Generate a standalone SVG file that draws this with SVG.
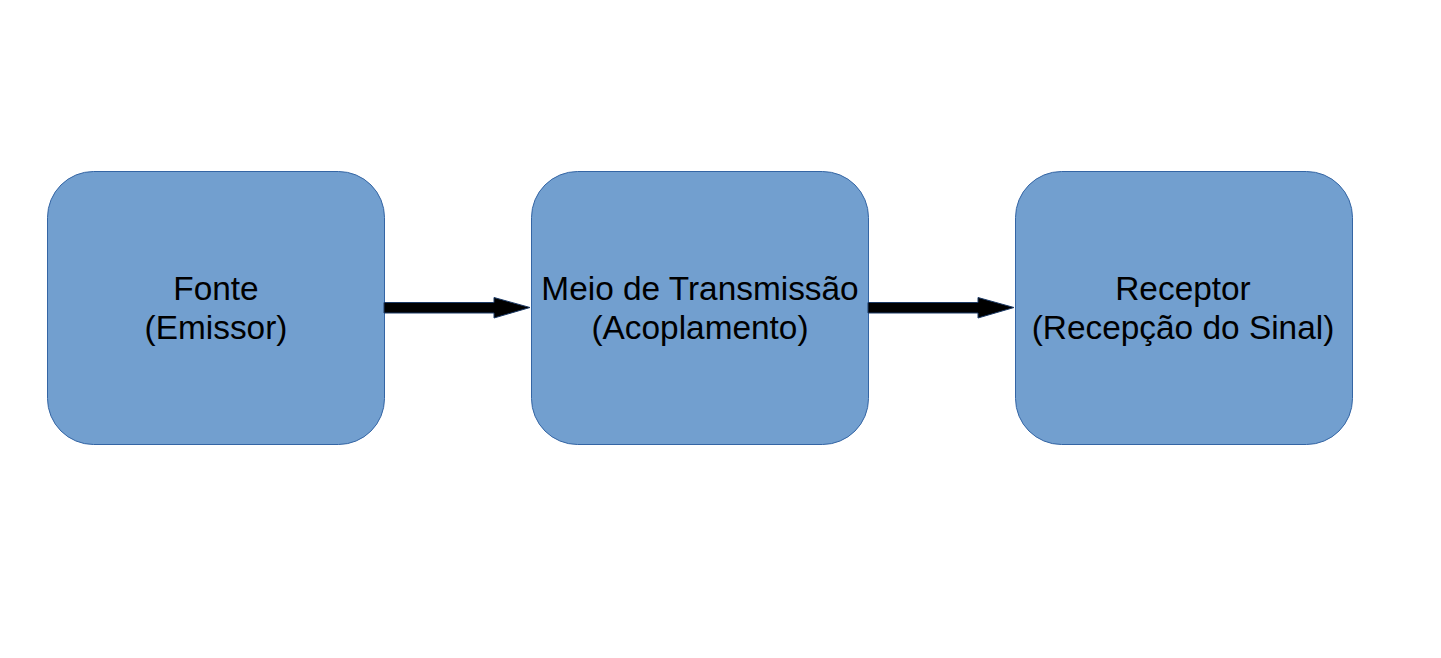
<svg xmlns="http://www.w3.org/2000/svg" width="1441" height="658" viewBox="0 0 1441 658">
<style>
.box{fill:#729fcf;stroke:#3465a4;stroke-width:1}
.lbl{font-family:"Liberation Sans",Arial,sans-serif;font-size:33.4px;fill:#000;text-anchor:middle}
.arr{fill:#000;stroke:#1c3a66;stroke-width:1}
</style>
<rect width="1441" height="658" fill="#fff"/>
<g id="fonte">
<rect class="box" x="47.5" y="171.5" width="337" height="273" rx="46" ry="46"/>
<text class="lbl" x="216" y="299.5">Fonte</text>
<text class="lbl" x="216" y="338.5">(Emissor)</text>
</g>
<g id="meio">
<rect class="box" x="531.5" y="171.5" width="337" height="273" rx="46" ry="46"/>
<text class="lbl" x="700" y="299.5">Meio de Transmissão</text>
<text class="lbl" x="700" y="338.5">(Acoplamento)</text>
</g>
<g id="receptor">
<rect class="box" x="1015.5" y="171.5" width="337" height="273" rx="46" ry="46"/>
<text class="lbl" x="1183" y="299.5">Receptor</text>
<text class="lbl" x="1183" y="338.5">(Recepção do Sinal)</text>
</g>
<g id="connectors">
<polygon class="arr" points="384,302.5 494,302.5 494,297.5 530,307.5 494,318 494,313 384,313"/>
<polygon class="arr" points="868,302.5 978,302.5 978,297.5 1014,307.5 978,318 978,313 868,313"/>
</g>
</svg>
